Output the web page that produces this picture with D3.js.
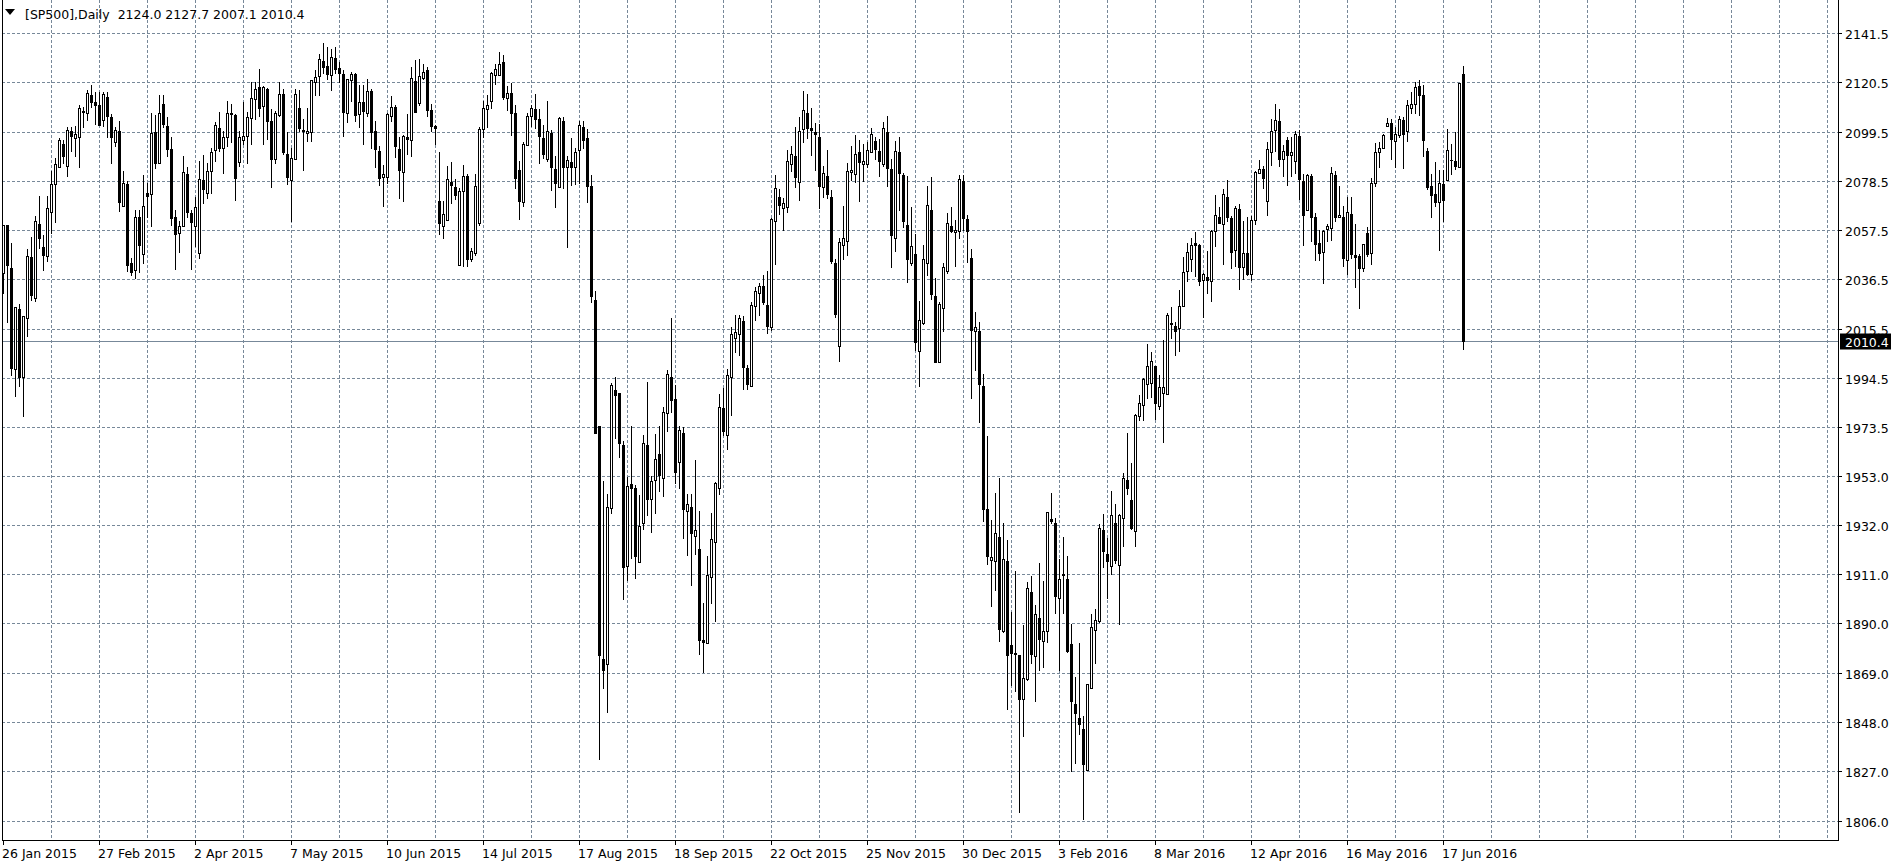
<!DOCTYPE html>
<html><head><meta charset="utf-8">
<script src="https://cdn.jsdelivr.net/npm/d3@7"></script>
<style>
html,body{margin:0;padding:0;background:#fff;overflow:hidden}
svg{display:block}
text{font-family:"DejaVu Sans",sans-serif;font-size:12.5px;fill:#000}
</style>
</head><body>
<svg id="chart" width="1898" height="867"></svg>
<script>
// ---------- data ----------
const headerText = "[SP500],Daily  2124.0 2127.7 2007.1 2010.4";
const lastPrice = 2010.4;
const priceTicks = ["2141.5","2120.5","2099.5","2078.5","2057.5","2036.5","2015.5","1994.5","1973.5","1953.0","1932.0","1911.0","1890.0","1869.0","1848.0","1827.0","1806.0"];
const dateLabels = ["26 Jan 2015","27 Feb 2015","2 Apr 2015","7 May 2015","10 Jun 2015","14 Jul 2015","17 Aug 2015","18 Sep 2015","22 Oct 2015","25 Nov 2015","30 Dec 2015","3 Feb 2016","8 Mar 2016","12 Apr 2016","16 May 2016","17 Jun 2016"];
const barsPerLabel = 24, barsPerGrid = 12;

const openP = [2039.6,2060.1,2041.8,1998.4,2024.2,1995.1,2020.1,2046.1,2028.9,2060.5,2050.4,2046.8,2065.6,2077.2,2084.6,2094.4,2084.9,2099.8,2096.9,2097.2,
2108.6,2107.5,2115.1,2112.2,2110.8,2104.6,2114.6,2105.8,2095.4,2100.1,2068.2,2077.2,2043.6,2040.8,2063.2,2047.5,2073.5,2072.9,2099.6,2086.1,
2111.6,2102.2,2092.4,2063.2,2056.4,2059.6,2081.6,2064.9,2059.6,2048.1,2079.1,2073.6,2082.9,2091.8,2101.2,2092.9,2097.2,2107.8,2106.9,2086.6,
2096.1,2097.6,2105.4,2113.4,2118.8,2110.5,2117.9,2104.4,2087.8,2106.8,2115.5,2090.1,2078.9,2087.9,2109.8,2100.5,2099.1,2099.5,2120.8,2123.4,
2129.6,2127.5,2123.9,2131.2,2126.8,2124.1,2107.6,2121.8,2124.1,2107.2,2112.1,2107.5,2116.8,2100.1,2091.4,2080.4,2080.4,2106.2,2110.2,2092.4,
2082.6,2097.5,2096.1,2121.2,2111.8,2122.6,2125.8,2108.9,2102.2,2070.1,2059.6,2062.2,2078.2,2076.1,2042.9,2074.2,2080.8,2045.5,2047.9,2060.8,
2100.8,2109.4,2112.8,2123.9,2123.6,2129.2,2114.1,2116.2,2107.8,2083.5,2069.8,2093.9,2106.2,2109.5,2105.1,2096.9,2088.2,2099.2,2083.8,2076.2,
2104.4,2084.4,2086.8,2084.6,2091.8,2101.8,2096.8,2076.6,2028.0,1974.1,1875.0,1872.8,1939.5,1989.6,1988.2,1966.0,1914.7,1949.5,1948.1,1916.3,
1932.8,1966.3,1943.2,1951.3,1962.4,1952.2,1980.0,1995.0,1985.7,1958.8,1971.4,1937.9,1940.0,1927.5,1922.1,1883.2,1882.1,1910.1,1924.8,1947.7,
1982.1,1970.5,1995.1,2011.9,2013.6,2019.0,1998.8,1991.2,2025.2,2031.1,2033.8,2025.7,2016.5,2061.6,2072.0,2067.0,2067.5,2085.7,2089.4,2078.4,
2100.6,2107.4,2101.0,2099.6,2097.3,2075.9,2080.8,2071.8,2043.7,2008.5,2051.3,2053.0,2082.3,2081.8,2091.0,2085.8,2086.0,2090.9,2095.6,2091.4,
2086.0,2099.7,2083.9,2054.3,2091.0,2081.1,2059.9,2043.8,2047.6,2006.1,2018.3,2043.8,2066.3,2029.6,2001.4,2024.4,2040.3,2059.4,2057.0,2057.4,
2078.5,2062.3,2045.7,2014.6,2014.6,1991.2,1938.9,1917.3,1916.8,1926.9,1887.1,1916.8,1880.9,1877.5,1876.8,1858.1,1866.4,1903.7,1876.5,1892.7,
1882.6,1886.8,1934.5,1933.2,1901.0,1911.4,1909.3,1881.5,1855.7,1849.8,1845.4,1827.9,1862.9,1887.6,1891.2,1930.2,1919.6,1914.6,1933.2,1915.3,
1935.0,1951.2,1943.0,1929.4,1978.5,1983.3,1992.4,1992.5,1999.9,1982.7,1988.5,1988.1,2017.8,2017.1,2016.2,2025.5,2040.5,2045.6,2052.2,2051.4,
2036.6,2037.8,2035.9,2057.4,2063.1,2060.2,2071.9,2062.8,2049.1,2066.8,2041.9,2047.8,2039.2,2061.9,2082.1,2083.8,2070.2,2091.2,2100.5,2104.1,
2088.1,2096.2,2089.8,2087.2,2097.9,2078.8,2066.2,2080.8,2063.1,2052.1,2048.5,2058.1,2058.8,2081.2,2063.2,2063.2,2044.8,2064.5,2047.1,2046.6,
2041.6,2056.4,2048.1,2077.6,2090.8,2092.8,2101.9,2103.5,2095.6,2098.4,2104.8,2099.8,2109.9,2111.6,2119.0,2115.2,2091.6,2076.6,2073.1,2069.9,
2077.5,2078.9,2087.5,2087.2,2084.8,2124.0];

const highP = [2060.1,2060.1,2052.2,2024.8,2026.1,2021.2,2049.8,2054.8,2063.8,2072.2,2055.8,2072.2,2082.9,2088.5,2096.9,2096.2,2101.5,2101.5,2101.9,2110.8,
2110.1,2117.2,2119.4,2116.5,2116.5,2116.6,2116.5,2107.2,2101.5,2104.4,2082.9,2078.6,2045.8,2066.2,2066.5,2081.2,2077.8,2107.5,2106.9,2115.1,
2115.4,2105.8,2097.2,2066.5,2061.5,2089.4,2084.4,2066.5,2071.9,2087.2,2089.8,2086.5,2092.9,2103.6,2107.9,2100.1,2112.5,2111.5,2107.2,2100.1,
2112.1,2107.9,2120.8,2120.8,2126.2,2118.9,2118.4,2109.4,2108.6,2120.9,2117.9,2099.4,2092.9,2117.9,2117.6,2105.1,2109.8,2121.8,2126.1,2132.6,
2137.2,2135.5,2134.8,2135.5,2129.4,2126.1,2122.2,2125.1,2124.8,2119.4,2119.4,2122.2,2117.9,2104.1,2093.6,2085.4,2107.5,2114.9,2110.8,2097.2,
2098.1,2107.2,2127.2,2130.1,2130.5,2128.6,2127.2,2111.5,2102.6,2091.1,2070.1,2085.1,2086.8,2079.4,2075.8,2085.5,2081.5,2050.1,2081.5,2101.8,
2112.5,2115.1,2125.1,2128.6,2133.4,2132.2,2119.1,2120.5,2110.8,2087.2,2095.1,2107.5,2111.1,2115.5,2109.1,2102.5,2112.9,2100.4,2089.4,2106.1,
2106.1,2089.4,2097.1,2092.9,2104.4,2104.4,2100.8,2081.2,2031.9,1974.1,1950.8,1945.4,1992.5,1995.0,1988.2,1967.8,1952.5,1974.4,1949.3,1945.0,
1970.3,1992.9,1952.9,1970.8,1974.4,1982.5,1998.3,2020.3,1991.8,1974.1,1973.7,1945.4,1945.4,1959.7,1938.2,1898.8,1918.9,1937.3,1950.4,1987.9,
1990.4,1998.6,2016.5,2021.5,2021.5,2021.2,2000.1,2026.9,2033.3,2035.3,2038.7,2040.5,2062.8,2081.3,2075.4,2071.5,2091.9,2093.4,2101.8,2106.0,
2117.0,2115.5,2109.9,2103.5,2102.8,2085.0,2091.7,2074.9,2045.4,2054.3,2067.8,2086.3,2093.4,2098.1,2095.9,2094.4,2095.1,2101.1,2097.5,2096.6,
2103.9,2106.3,2087.8,2095.8,2097.5,2082.2,2080.9,2067.4,2056.0,2027.6,2051.3,2076.7,2080.2,2037.4,2027.3,2043.8,2065.0,2067.4,2061.9,2081.4,
2081.1,2064.1,2049.8,2023.0,2018.8,1996.3,1970.1,1934.2,1945.9,1952.0,1932.8,1925.7,1895.3,1912.5,1876.8,1889.4,1908.0,1910.5,1898.1,1915.8,
1908.3,1937.7,1945.7,1935.1,1917.6,1927.0,1919.1,1889.8,1867.5,1881.8,1850.8,1864.6,1894.2,1896.2,1932.4,1937.0,1926.4,1946.5,1941.2,1936.9,
1954.3,1971.4,1958.5,1979.5,1987.3,1994.7,2009.2,2006.0,2000.0,1995.9,2010.9,2022.4,2024.8,2018.8,2032.1,2046.2,2052.1,2054.5,2056.9,2051.6,
2039.5,2048.8,2057.8,2072.8,2067.6,2075.2,2079.1,2063.8,2067.8,2068.8,2061.4,2063.1,2063.8,2083.1,2087.6,2085.2,2095.2,2105.2,2111.4,2109.1,
2093.8,2097.4,2097.4,2099.9,2100.5,2081.6,2081.6,2081.6,2065.2,2057.6,2057.6,2060.5,2084.5,2082.8,2076.4,2068.1,2071.9,2071.9,2060.5,2047.4,
2051.9,2059.1,2079.9,2094.8,2095.2,2098.8,2105.6,2105.2,2101.6,2106.2,2105.9,2113.1,2116.6,2121.0,2121.5,2119.5,2092.5,2081.6,2086.6,2083.5,
2083.2,2100.8,2094.4,2099.6,2120.4,2127.7];

const lowP = [2031.1,2018.6,1996.1,1987.2,1991.5,1978.6,2012.6,2027.9,2027.5,2050.1,2040.6,2044.4,2056.5,2061.2,2084.6,2086.5,2080.9,2091.5,2089.5,2084.4,
2101.8,2104.6,2110.0,2102.9,2102.6,2101.9,2097.2,2086.4,2093.4,2065.8,2068.2,2040.4,2038.6,2037.5,2039.8,2043.9,2063.4,2059.6,2084.1,2086.1,
2101.5,2089.4,2060.1,2041.1,2048.2,2059.6,2063.2,2041.1,2050.8,2045.8,2069.4,2071.5,2073.6,2087.2,2091.5,2082.2,2093.6,2095.4,2070.6,2085.1,
2094.4,2086.5,2094.4,2105.1,2106.5,2094.4,2096.5,2076.2,2086.5,2106.5,2090.1,2077.2,2061.5,2087.9,2100.1,2083.2,2095.5,2095.5,2115.4,2115.4,
2124.8,2122.2,2117.6,2124.8,2120.8,2097.9,2103.6,2112.6,2104.1,2101.8,2094.6,2106.5,2092.5,2084.4,2076.9,2068.2,2077.9,2104.1,2088.9,2071.5,
2070.1,2090.1,2089.4,2107.9,2110.8,2122.2,2106.2,2100.1,2094.4,2056.0,2054.4,2062.2,2069.4,2070.8,2042.9,2042.6,2042.6,2044.4,2047.2,2060.1,
2097.2,2101.8,2109.6,2120.1,2123.6,2113.6,2108.9,2098.2,2075.8,2062.6,2067.9,2093.9,2101.9,2101.2,2086.1,2088.6,2087.2,2074.9,2067.4,2076.2,
2075.8,2050.6,2076.9,2077.2,2077.9,2092.9,2069.6,2026.9,1971.4,1832.5,1862.9,1852.7,1937.3,1969.2,1961.0,1900.6,1908.6,1918.0,1909.5,1916.3,
1930.5,1936.4,1929.2,1937.3,1946.6,1944.5,1972.3,1980.3,1950.2,1947.7,1926.6,1919.4,1906.8,1919.8,1877.3,1869.6,1881.8,1898.8,1891.3,1945.4,
1970.5,1964.6,1979.1,2006.0,2004.7,1990.0,1989.9,1991.2,2019.5,2021.5,2026.2,2014.0,2015.3,2043.4,2064.4,2057.7,2065.3,2083.0,2076.1,2070.7,
2095.2,2096.9,2089.7,2083.3,2067.0,2071.7,2071.5,2043.7,2020.7,2001.8,2045.6,2047.3,2079.1,2078.4,2070.0,2078.7,2084.6,2090.9,2087.8,2080.9,
2085.1,2076.3,2042.0,2048.7,2066.2,2058.9,2035.5,2042.8,2006.6,1991.4,2017.9,2038.8,2028.6,2001.5,2001.4,2014.6,2039.6,2056.9,2042.3,2054.3,
2057.7,2044.0,1986.1,1998.2,1976.0,1934.0,1915.6,1897.8,1904.6,1882.9,1886.5,1853.8,1864.0,1861.4,1810.1,1842.2,1866.0,1873.2,1857.2,1870.5,
1871.7,1882.3,1933.2,1894.7,1870.2,1894.7,1878.0,1827.3,1830.8,1843.0,1807.0,1827.9,1862.6,1873.5,1890.9,1914.3,1901.1,1911.3,1915.8,1890.1,
1923.1,1945.3,1930.5,1923.1,1977.0,1977.0,1986.3,1986.8,1977.3,1981.5,1967.4,1988.1,2011.6,2004.5,2006.2,2025.5,2036.2,2040.2,2038.1,2034.5,
2020.6,2030.9,2027.6,2050.9,2060.6,2043.1,2061.6,2041.6,2042.4,2032.6,2037.1,2038.8,2036.6,2060.5,2082.1,2075.5,2064.2,2085.6,2091.5,2084.9,
2080.6,2077.1,2080.8,2081.9,2070.9,2051.2,2066.2,2053.1,2044.8,2045.2,2035.2,2053.1,2053.4,2061.5,2063.2,2042.4,2039.1,2045.9,2033.5,2024.5,
2040.2,2046.6,2043.4,2076.4,2084.5,2092.8,2101.9,2087.8,2084.5,2097.4,2084.1,2095.5,2107.4,2107.6,2106.6,2089.5,2075.2,2063.1,2068.1,2049.4,
2061.5,2078.9,2081.8,2083.6,2084.8,2007.1];

const closeP = [2060.1,2042.9,1999.0,2024.8,1995.1,2021.2,2046.8,2030.1,2061.5,2054.4,2047.2,2067.1,2077.2,2085.8,2096.2,2089.1,2100.5,2097.8,2098.6,2109.9,
2107.9,2116.2,2112.2,2111.1,2102.6,2115.8,2106.5,2097.2,2100.4,2069.8,2077.6,2042.9,2039.8,2063.2,2051.5,2068.2,2072.4,2099.2,2086.5,2107.4,
2102.8,2092.1,2062.9,2056.2,2059.6,2082.5,2065.5,2061.2,2067.5,2079.5,2075.1,2082.9,2091.1,2102.5,2092.9,2097.4,2107.6,2107.1,2080.1,2097.4,
2097.8,2105.9,2113.8,2117.9,2109.6,2118.5,2104.2,2088.2,2107.8,2115.5,2091.2,2080.2,2088.4,2115.8,2101.1,2099.9,2100.1,2121.8,2123.1,2130.4,
2127.2,2124.4,2131.6,2126.2,2124.8,2107.9,2122.2,2124.4,2106.9,2112.4,2108.4,2117.1,2099.6,2092.1,2080.1,2081.5,2107.2,2110.2,2093.4,2083.5,
2097.8,2096.4,2122.6,2107.9,2123.5,2125.2,2108.8,2101.9,2101.1,2060.8,2064.4,2079.4,2076.8,2072.5,2074.2,2080.6,2045.4,2048.9,2076.4,2100.8,
2109.9,2111.2,2124.5,2126.2,2128.6,2114.6,2116.2,2107.5,2079.8,2070.2,2094.4,2106.4,2109.9,2104.9,2097.6,2090.1,2100.1,2084.8,2077.6,2105.5,
2084.8,2087.5,2084.8,2090.9,2102.5,2096.2,2076.6,2029.6,1971.4,1876.7,1870.6,1940.0,1991.8,1987.5,1967.2,1914.4,1948.8,1948.1,1919.0,1931.6,
1967.2,1943.2,1950.8,1960.1,1953.4,1980.3,1996.5,1985.3,1954.7,1972.8,1939.1,1940.9,1928.7,1930.1,1883.2,1882.5,1911.0,1926.2,1949.9,1982.5,
1972.3,1995.9,2013.4,2014.3,2020.2,1999.6,1992.4,2025.7,2031.6,2034.1,2026.9,2017.0,2062.4,2075.7,2068.6,2069.2,2087.0,2090.2,2080.4,2099.8,
2108.9,2101.3,2100.5,2098.6,2076.7,2082.0,2073.2,2044.7,2022.0,2052.5,2054.3,2083.0,2083.3,2090.0,2086.8,2087.3,2091.7,2098.6,2092.4,2087.0,
2101.4,2084.3,2055.5,2091.5,2082.1,2061.6,2045.4,2050.9,2010.2,2019.6,2045.4,2068.4,2030.5,2001.5,2026.1,2042.0,2060.8,2057.5,2057.7,2079.7,
2062.8,2057.2,2015.1,2016.6,1992.2,1939.1,1919.0,1918.6,1928.8,1887.7,1917.8,1876.7,1877.5,1877.0,1858.1,1867.0,1905.5,1877.3,1894.4,1883.8,
1887.1,1937.7,1933.9,1901.8,1909.0,1910.7,1878.5,1857.3,1851.9,1847.5,1830.5,1864.3,1888.9,1891.6,1930.9,1921.1,1917.0,1936.6,1917.3,1936.6,
1952.1,1947.8,1930.9,1979.2,1984.1,1994.4,1999.9,2001.9,1984.1,1990.9,1990.9,2021.4,2018.0,2014.9,2025.5,2039.8,2048.6,2051.4,2051.2,2036.2,
2038.9,2036.5,2057.4,2064.1,2060.6,2073.1,2063.4,2048.5,2067.1,2041.9,2047.8,2039.1,2061.9,2082.5,2083.8,2079.8,2092.4,2100.1,2104.5,2088.1,
2091.5,2089.8,2090.8,2098.5,2079.4,2064.1,2081.2,2063.1,2051.6,2048.1,2057.4,2059.4,2082.1,2063.1,2064.1,2045.9,2065.5,2047.6,2046.2,2041.4,
2051.6,2047.6,2077.8,2091.2,2092.8,2098.4,2103.5,2096.6,2098.8,2105.2,2098.8,2110.9,2111.6,2118.5,2115.2,2096.2,2075.9,2072.8,2069.9,2077.9,
2070.4,2091.8,2087.6,2085.1,2120.4,2010.4];

// ---------- layout ----------
const svg = d3.select("#chart");
const frameL = 2, frameR = 1838, frameB = 840;
const n = openP.length;
const x = d3.scaleLinear().domain([0, n - 1]).range([3, 3 + 4 * (n - 1)]);
const y = d3.scaleLinear().domain([1806, 2141.5]).range([821.2, 33.4]);
const gridColor = "#778899";
const snap = v => Math.floor(v) + 0.5;

svg.append("rect").attr("width", 1898).attr("height", 867).attr("fill", "#fff");

// grid (vertical)
const gridG = svg.append("g").attr("stroke", gridColor).attr("stroke-width", 1)
  .attr("stroke-dasharray", "3,2").attr("shape-rendering", "crispEdges");
const vIdx = d3.range(barsPerGrid, 1000, barsPerGrid).filter(i => x(i) < frameR - 2);
gridG.selectAll("line.v").data(vIdx).join("line").attr("class", "v")
  .attr("x1", i => x(i) + 0.5).attr("x2", i => x(i) + 0.5)
  .attr("y1", 0).attr("y2", frameB);
// grid (horizontal)
gridG.selectAll("line.h").data(priceTicks).join("line").attr("class", "h")
  .attr("x1", frameL).attr("x2", frameR)
  .attr("y1", d => snap(y(+d))).attr("y2", d => snap(y(+d)));

// current price line
svg.append("line").attr("x1", frameL).attr("x2", frameR)
  .attr("y1", snap(y(lastPrice))).attr("y2", snap(y(lastPrice)))
  .attr("stroke", gridColor).attr("stroke-width", 1).attr("shape-rendering", "crispEdges");

// candles
const idx = d3.range(n);
const cg = svg.append("g").attr("shape-rendering", "crispEdges");
cg.selectAll("line.wick").data(idx).join("line").attr("class", "wick")
  .attr("x1", i => x(i) + 0.5).attr("x2", i => x(i) + 0.5)
  .attr("y1", i => Math.round(y(Math.max(highP[i], openP[i], closeP[i]))))
  .attr("y2", i => Math.round(y(Math.min(lowP[i], openP[i], closeP[i]))) + 1)
  .attr("stroke", "#000").attr("stroke-width", 1);
idx.forEach(i => {
  const o = openP[i], c = closeP[i];
  const yt = Math.round(y(Math.max(o, c))) + 0.5;
  const yb = Math.round(y(Math.min(o, c))) + 0.5;
  const h = yb - yt;
  if (h < 1) {
    cg.append("line").attr("x1", x(i) - 1).attr("x2", x(i) + 2)
      .attr("y1", yt).attr("y2", yt).attr("stroke", "#000").attr("stroke-width", 1);
  } else {
    cg.append("rect").attr("x", x(i) - 0.5).attr("y", yt).attr("width", 2).attr("height", h)
      .attr("fill", c >= o ? "#fff" : "#000").attr("stroke", "#000").attr("stroke-width", 1);
  }
});

// frame
const fr = svg.append("g").attr("stroke", "#000").attr("stroke-width", 1).attr("shape-rendering", "crispEdges");
fr.append("line").attr("x1", frameL + 0.5).attr("x2", frameL + 0.5).attr("y1", 0).attr("y2", frameB + 1);
fr.append("line").attr("x1", frameR + 0.5).attr("x2", frameR + 0.5).attr("y1", 0).attr("y2", frameB + 1);
fr.append("line").attr("x1", frameL).attr("x2", frameR + 1).attr("y1", frameB + 0.5).attr("y2", frameB + 0.5);

// price axis
const ya = svg.append("g");
ya.selectAll("line").data(priceTicks).join("line")
  .attr("x1", frameR).attr("x2", frameR + 4)
  .attr("y1", d => snap(y(+d))).attr("y2", d => snap(y(+d)))
  .attr("stroke", "#000").attr("shape-rendering", "crispEdges");
ya.selectAll("text").data(priceTicks).join("text")
  .attr("x", 1845).attr("y", d => Math.floor(y(+d)) + 5.5).text(d => d);

// current price label
const py = snap(y(lastPrice));
svg.append("rect").attr("x", 1840).attr("y", py - 8).attr("width", 51).attr("height", 16).attr("fill", "#000");
svg.append("text").attr("x", 1845).attr("y", py + 5).style("fill", "#fff").text(lastPrice.toFixed(1));

// date axis
const xa = svg.append("g");
const lab = dateLabels.map((d, k) => ({ d, i: k * barsPerLabel }));
xa.selectAll("line").data(lab).join("line")
  .attr("x1", d => x(d.i) + 0.5).attr("x2", d => x(d.i) + 0.5)
  .attr("y1", frameB).attr("y2", frameB + 5)
  .attr("stroke", "#000").attr("shape-rendering", "crispEdges");
xa.selectAll("text").data(lab).join("text")
  .attr("x", d => x(d.i) - 1).attr("y", 858).text(d => d.d);

// header
svg.append("path").attr("d", "M5,9 L15,9 L10,15 Z").attr("fill", "#000");
svg.append("text").attr("x", 25).attr("y", 19).style("white-space", "pre").text(headerText);
</script>
</body></html>
